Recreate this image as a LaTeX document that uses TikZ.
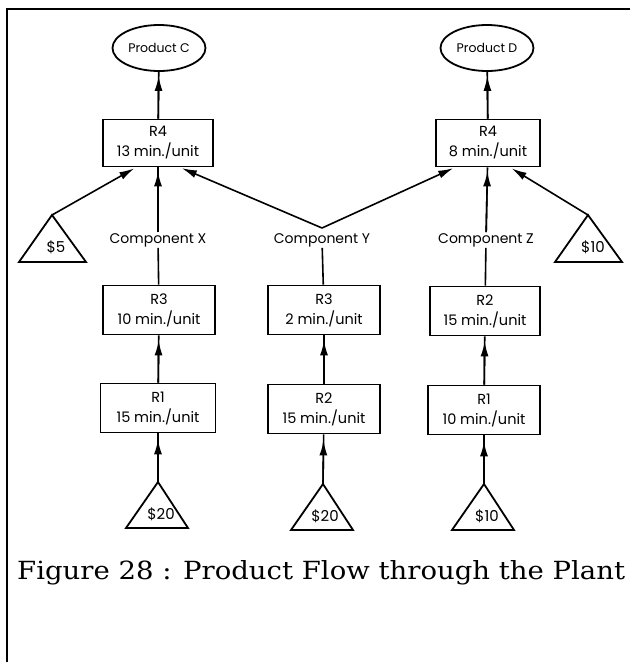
\documentclass[tikz,border=0pt]{standalone}
\usepackage{fontspec}
\setmainfont{DejaVu Serif}
\newfontfamily\fut{Poppins}
\usetikzlibrary{arrows.meta,shapes.geometric}
\begin{document}
\begin{tikzpicture}[x=1pt,y=-1pt,
  wbox/.style={draw, line width=1.8pt, minimum width=112pt, minimum height=49pt, inner sep=0pt, align=center, font=\fut\fontsize{14.5}{20}\selectfont},
  prod/.style={draw, ellipse, line width=1.8pt, minimum width=93pt, minimum height=46pt, inner sep=0pt, font=\fut\fontsize{12.5}{14}\selectfont},
  lbl/.style={inner sep=1pt, font=\fut\fontsize{14}{16}\selectfont},
  ln/.style={line width=1.6pt},
  arr/.style={line width=1.6pt, -{Latex[length=15pt,width=8pt]}},
  tri/.style={line width=1.8pt, line join=miter},
  price/.style={inner sep=0pt, font=\fut\fontsize{15}{16}\selectfont}]
\useasboundingbox (0,0) rectangle (630,662);
\fill[white] (0,0) rectangle (630,662);
% frame
\draw[line width=2.5pt] (7,662) -- (7,9) -- (630,9);
% products
\node[prod] (pc) at (159,48) {Product C};
\node[prod] (pd) at (487,48) {Product D};
% R4 boxes
\node[wbox, minimum width=110pt, minimum height=47pt] (r4l) at (158,143) {R4\\13 min./unit};
\node[wbox, minimum width=104pt, minimum height=47pt] (r4r) at (488,143) {R4\\8 min./unit};
% component labels
\node[lbl] (cx) at (158,240) {Component X};
\node[lbl] (cy) at (322,240) {Component Y};
\node[lbl] (cz) at (486,240) {Component Z};
\coordinate (vy) at (322,228);
% side price triangles
\coordinate (t5) at (52,215);
\draw[tri] (t5) -- (19,262) -- (86,262) -- cycle;
\node[price] (p5) at (56,247) {\$5};
\coordinate (t10) at (588,215);
\draw[tri] (t10) -- (555,262) -- (622,262) -- cycle;
\node[price] (p10) at (593,247) {\$10};
% middle rows
\node[wbox] (r3l) at (159,310) {R3\\10 min./unit};
\node[wbox] (r3m) at (324,310) {R3\\2 min./unit};
\node[wbox, minimum width=110pt] (r2r) at (485,311) {R2\\15 min./unit};
\node[wbox, minimum width=115pt] (r1l) at (158,408) {R1\\15 min./unit};
\node[wbox] (r2m) at (324,409) {R2\\15 min./unit};
\node[wbox] (r1r) at (484,410) {R1\\10 min./unit};
% bottom price triangles
\coordinate (b1) at (158,482);
\draw[tri] (b1) -- (126,528) -- (188,528) -- cycle;
\node[price] (pb1) at (161,514) {\$20};
\coordinate (b2) at (323,484);
\draw[tri] (b2) -- (291,530) -- (353,530) -- cycle;
\node[price] (pb2) at (325,516) {\$20};
\coordinate (b3) at (484,484);
\draw[tri] (b3) -- (452,530) -- (514,530) -- cycle;
\node[price] (pb3) at (487,516) {\$10};
% attach points on R4 boxes
\coordinate (la) at ([xshift=-22pt]r4l.south);
\coordinate (lb) at ([xshift=22pt]r4l.south);
\coordinate (ra) at ([xshift=-33pt]r4r.south);
\coordinate (rb) at ([xshift=22pt]r4r.south);
% connectors: R4 to products
\draw[ln] (r4l) -- (pc);
\draw[arr, shorten >=4pt] (r4l) -- (pc);
\draw[ln] (r4r) -- (pd);
\draw[arr, shorten >=4pt] (r4r) -- (pd);
% into R4
\draw[arr, shorten >=2pt] (t5) -- (la);
\draw[arr, shorten >=2pt] (vy) -- (lb);
\draw[arr, shorten >=2pt] (vy) -- (ra);
\draw[arr, shorten >=2pt] (t10) -- (rb);
\draw[ln] (cx) -- (r4l);
\draw[arr, shorten >=4pt] (cx) -- (r4l);
\draw[ln] (cz) -- (r4r);
\draw[arr, shorten >=4pt] (cz) -- (r4r);
% components from R3/R2
\draw[ln] (r3l) -- (cx);
\draw[ln] (r3m) -- (cy);
\draw[ln] (r2r) -- (cz);
% lower chains
\draw[ln] (r1l) -- (r3l);
\draw[arr, shorten >=5pt] (r1l) -- (r3l);
\draw[ln] (r2m) -- (r3m);
\draw[arr, shorten >=5pt] (r2m) -- (r3m);
\draw[ln] (r1r) -- (r2r);
\draw[arr, shorten >=5pt] (r1r) -- (r2r);
\draw[ln] (b1) -- (r1l);
\draw[arr, shorten >=6pt] (b1) -- (r1l);
\draw[ln] (b2) -- (r2m);
\draw[arr, shorten >=6pt] (b2) -- (r2m);
\draw[ln] (b3) -- (r1r);
\draw[arr, shorten >=6pt] (b3) -- (r1r);
% caption
\node[anchor=west, inner sep=0pt, font=\fontsize{25}{30}\selectfont] (cap) at (17,573) {\scalebox{1.1}[1]{Figure 28 : Product Flow through the Plant}};
\end{tikzpicture}
\end{document}
